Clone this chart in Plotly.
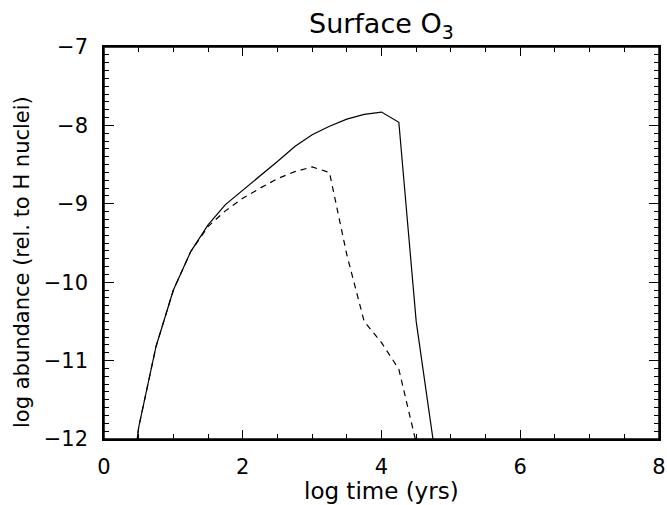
import plotly.graph_objects as go

log_time = [0.25, 0.5, 0.75, 1.0, 1.25, 1.5, 1.75, 2.0, 2.25, 2.5, 2.75, 3.0,
            3.25, 3.5, 3.75, 4.0, 4.25, 4.5, 4.75]
solid_abund = [-13.6, -11.85, -10.82, -10.10, -9.61, -9.27, -9.01, -8.83, -8.65, -8.46,
               -8.27, -8.12, -8.01, -7.92, -7.86, -7.83, -7.96, -10.50, -12.05]
dashed_abund = [-13.6, -11.85, -10.82, -10.10, -9.61, -9.29, -9.09, -8.93, -8.80, -8.68,
                -8.59, -8.53, -8.60, -9.65, -10.50, -10.77, -11.11, -12.05, None]

x_ticks = [0, 2, 4, 6, 8]
y_ticks = [-12, -11, -10, -9, -8, -7]

FONT = "DejaVu Sans ExtraLight, DejaVu Sans, sans-serif"

W, H = 667, 505
L, T = 104, 47
R = W - 659
B = H - 439
PW = W - L - R
PH = H - T - B

fig = go.Figure()
fig.add_trace(go.Scatter(x=log_time, y=solid_abund, mode="lines",
                         line=dict(color="black", width=1.2), showlegend=False))
fig.add_trace(go.Scatter(x=log_time, y=dashed_abund, mode="lines",
                         line=dict(color="black", width=1.2, dash="6px,5px"), showlegend=False))

axis_common = dict(showline=True, linecolor="black", linewidth=1.5, mirror="ticks",
                   ticks="inside", tickcolor="black", tickwidth=1.2, showgrid=False,
                   zeroline=False, automargin=False,
                   tickfont=dict(family=FONT, size=21, color="black"))

fig.update_xaxes(range=[0, 8], tickvals=x_ticks, ticktext=[str(v) for v in x_ticks],
                 ticklen=9, ticklabelstandoff=8,
                 minor=dict(dtick=0.5, ticks="inside", ticklen=5, tickcolor="black", tickwidth=1.2),
                 **axis_common)
fig.update_yaxes(range=[-12, -7], tickvals=y_ticks,
                 ticktext=["\u2212" + str(abs(v)) for v in y_ticks],
                 ticklen=10, ticklabelstandoff=10,
                 minor=dict(dtick=0.1, ticks="inside", ticklen=5, tickcolor="black", tickwidth=1.2),
                 **axis_common)

# plot frame
fig.add_shape(type="rect", xref="paper", yref="paper", x0=0, y0=0, x1=1, y1=1,
              line=dict(color="black", width=1.5), layer="above")

fig.add_annotation(text="log time (yrs)", xref="paper", yref="paper",
                   x=0.5, y=-(491 - (T + PH)) / PH, xanchor="center", yanchor="middle",
                   showarrow=False, font=dict(family=FONT, size=23, color="black"))
fig.add_annotation(text="log abundance (rel. to H nuclei)", xref="paper", yref="paper",
                   x=-(L - 22) / PW, y=1 - (262 - T) / PH, xanchor="center", yanchor="middle",
                   textangle=-90,
                   showarrow=False, font=dict(family=FONT, size=21, color="black"))
fig.add_annotation(text="Surface O<sub>3</sub>", xref="paper", yref="paper",
                   x=0.5, y=1 + (T - 26) / PH, xanchor="center", yanchor="middle",
                   showarrow=False, font=dict(family=FONT, size=27, color="black"))

fig.update_layout(
    width=W, height=H,
    margin=dict(l=L, r=R, t=T, b=B),
    paper_bgcolor="white", plot_bgcolor="white",
)

fig.write_html(
    "out.html",
    config={"displayModeBar": False},
    post_script="document.body.style.margin='0';"
                "document.body.style.overflow='hidden';"
                "document.documentElement.style.overflow='hidden';",
)
